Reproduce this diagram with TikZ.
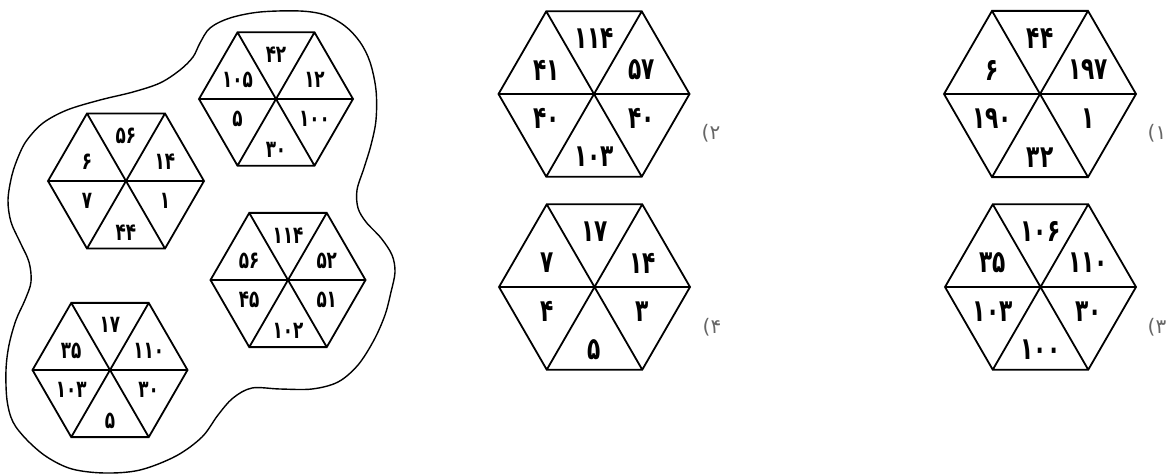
\documentclass[tikz,border=0pt]{standalone}
\usepackage{fontspec}
\newfontfamily\fa[Script=Arabic,FakeStretch=0.7]{DejaVu Sans}
\newfontfamily\falab[Script=Arabic]{DejaVu Sans}
\tikzset{
  hexline/.style={line width=1.8pt, line join=miter, draw=black},
  blobline/.style={line width=1.4pt, draw=black},
  numsmall/.style={font={\fa\bfseries\fontsize{24}{26}\selectfont}, inner sep=0pt},
  numbig/.style={font={\fa\bfseries\fontsize{31}{33}\selectfont}, inner sep=0pt},
  optlabel/.style={font={\falab\fontsize{20}{22}\selectfont}, text=black!60, inner sep=0pt}
}
\newcommand\hexcell[9]{%
  \begin{scope}[shift={(#2)}]
    \coordinate (#1) at (0,0);
    \draw[hexline] (0:#3) -- (60:#3) -- (120:#3) -- (180:#3) -- (240:#3) -- (300:#3) -- cycle
      (0:#3) -- (180:#3) (60:#3) -- (240:#3) (120:#3) -- (300:#3);
    \node (#1-t)  at (0,{-0.577*#3}) {#4};
    \node (#1-tr) at ({0.5*#3},{-0.25*#3}) {#5};
    \node (#1-br) at ({0.5*#3},{0.26*#3}) {#6};
    \node (#1-b)  at (0,{0.66*#3}) {#7};
    \node (#1-bl) at ({-0.5*#3},{0.26*#3}) {#8};
    \node (#1-tl) at ({-0.5*#3},{-0.25*#3}) {#9};
  \end{scope}}
\begin{document}
\begin{tikzpicture}[x=1pt,y=-1pt]
\useasboundingbox (0,0) rectangle (1169,475);
% blob outline
\draw[blobline] plot[smooth cycle, tension=0.55] coordinates {
 (200,43) (210,28) (230,18) (260,12) (300,11) (325,15) (345,26) (360,42) (370,62) (376,90)
 (376,120) (371,145) (364,168) (357,190) (358,208) (366,222) (381,238) (392,255) (395,272)
 (391,292) (385,315) (374,340) (358,365) (338,382) (312,389) (280,389) (252,388) (233,398)
 (218,415) (202,437) (176,456) (140,470) (105,473) (72,469) (47,457) (27,440) (13,422)
 (7,400) (6,370) (9,345) (16,320) (25,300) (31,282) (29,262) (20,242) (11,222) (8,200)
 (12,175) (19,155) (27,140) (43,123) (67,110) (100,100) (133,92) (160,83) (180,70) (193,57)};
\begin{scope}[every node/.append style={numsmall}]
\hexcell{hA}{276,99}{77}{۴۲}{۱۲}{۱۰۰}{۳۰}{۵}{۱۰۵}
\hexcell{hB}{126,181}{78}{۵۶}{۱۴}{۱}{۴۴}{۷}{۶}
\hexcell{hC}{288,280}{77.5}{۱۱۴}{۵۲}{۵۱}{۱۰۲}{۴۵}{۵۶}
\hexcell{hD}{110,370}{77.5}{۱۷}{۱۱۰}{۳۰}{۵}{۱۰۳}{۳۵}
\end{scope}
\begin{scope}[every node/.append style={numbig}]
\hexcell{h2}{594,94}{95.5}{۱۱۴}{۵۷}{۴۰}{۱۰۳}{۴۰}{۴۱}
\hexcell{h4}{594.5,287}{95.5}{۱۷}{۱۴}{۳}{۵}{۴}{۷}
\hexcell{h1}{1040,94}{96}{۴۴}{۱۹۷}{۱}{۳۲}{۱۹۰}{۶}
\hexcell{h3}{1040.5,287}{95.5}{۱۰۶}{۱۱۰}{۳۰}{۱۰۰}{۱۰۳}{۳۵}
\end{scope}
\node[optlabel] (l1) at (1157,133) {۱)};
\node[optlabel] (l2) at (711,133) {۲)};
\node[optlabel] (l3) at (1157,327) {۳)};
\node[optlabel] (l4) at (712,327) {۴)};
\end{tikzpicture}
\end{document}
